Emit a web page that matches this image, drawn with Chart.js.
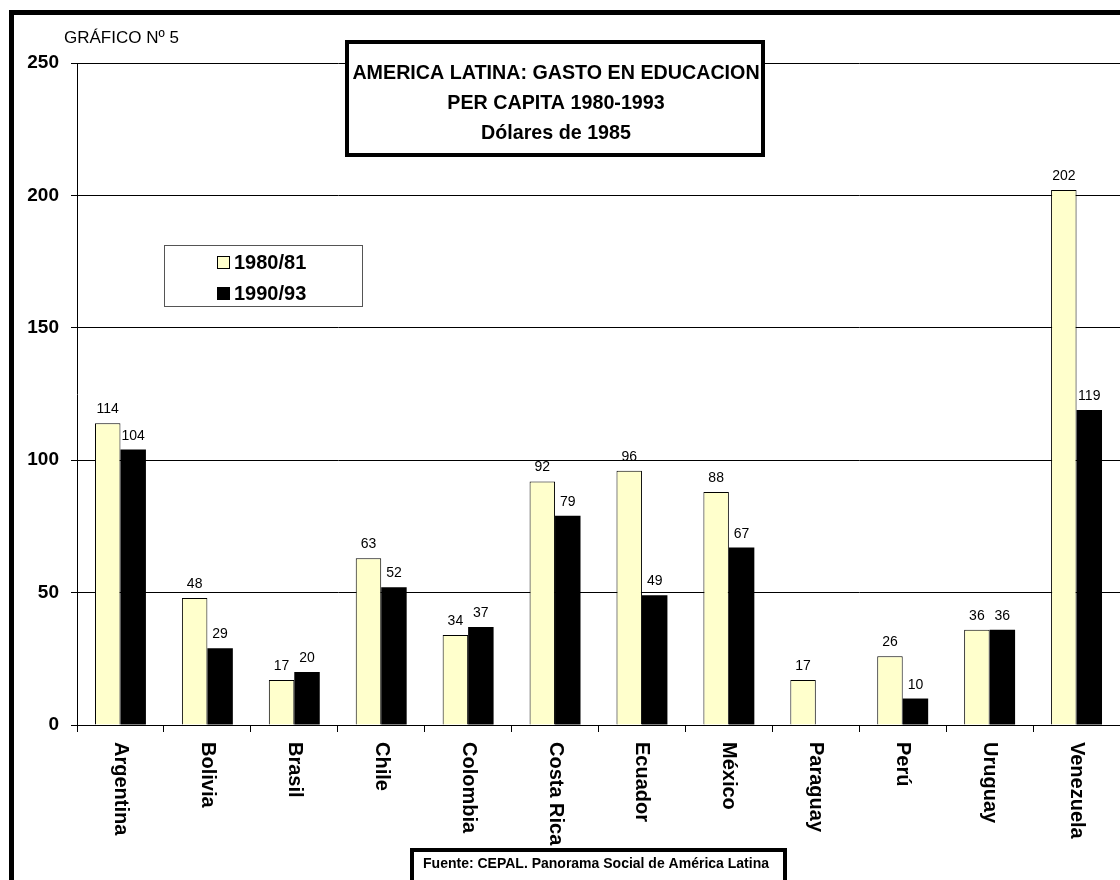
<!DOCTYPE html>
<html>
<head>
<meta charset="utf-8">
<title>Gasto en educación per cápita</title>
<script src="https://cdn.jsdelivr.net/npm/chart.js@4.4.0/dist/chart.umd.min.js"></script>
<style>
  html, body { margin: 0; padding: 0; background: #fff; overflow: hidden; }
  #wrap { width: 1120px; height: 880px; position: relative; }
</style>
</head>
<body>
<div id="wrap"><canvas id="gastoChart" width="1120" height="880"></canvas></div>
<script>
// Gasto en educación per cápita, dólares de 1985
const paises = ['Argentina', 'Bolivia', 'Brasil', 'Chile', 'Colombia', 'Costa Rica',
                'Ecuador', 'México', 'Paraguay', 'Perú', 'Uruguay', 'Venezuela'];
const gasto1980 = [114, 48, 17, 63, 34, 92, 96, 88, 17, 26, 36, 202];
const gasto1990 = [104, 29, 20, 52, 37, 79, 49, 67, null, 10, 36, 119];
const periodos = ['1980/81', '1990/93'];
const yMax = 250;
const yPaso = 50;

const tituloLineas = ['AMERICA LATINA: GASTO EN EDUCACION', 'PER CAPITA 1980-1993', 'Dólares de 1985'];
const rotulo = 'GRÁFICO Nº 5';
const fuente = 'Fuente: CEPAL. Panorama Social de América Latina';

const FONT = '"Liberation Sans", Arial, Helvetica, sans-serif';
const AMARILLO = '#FFFFCC';

// everything Excel-like that is not a bar: frame, title box, legend, labels
const decorado = {
    id: 'decorado',
    afterDraw(chart) {
        const ctx = chart.ctx;
        const xScale = chart.scales.x;
        ctx.save();

        // outer frame
        ctx.strokeStyle = '#000';
        ctx.lineWidth = 5;
        ctx.strokeRect(11.5, 12.5, 1200, 1000);

        ctx.fillStyle = '#000';
        ctx.font = '17px ' + FONT;
        ctx.textAlign = 'left';
        ctx.textBaseline = 'alphabetic';
        ctx.fillText(rotulo, 64, 43);

        // value labels above each bar
        ctx.font = '14px ' + FONT;
        ctx.textAlign = 'center';
        chart.data.datasets.forEach((ds, i) => {
            const meta = chart.getDatasetMeta(i);
            meta.data.forEach((bar, j) => {
                const v = ds.data[j];
                if (v === null || v === undefined) return;
                ctx.fillText(String(v), bar.x, bar.y - 10);
            });
        });

        // category names, rotated to read downward
        ctx.font = 'bold 20px ' + FONT;
        ctx.textAlign = 'left';
        ctx.textBaseline = 'middle';
        chart.data.labels.forEach((lab, i) => {
            const x = xScale.getPixelForValue(i);
            ctx.save();
            ctx.translate(x, 742);
            ctx.rotate(Math.PI / 2);
            ctx.fillText(lab, 0, 0);
            ctx.restore();
        });

        // title box
        ctx.fillStyle = '#fff';
        ctx.fillRect(347, 42, 416, 113);
        ctx.lineWidth = 4;
        ctx.strokeStyle = '#000';
        ctx.strokeRect(347, 42, 416, 113);
        ctx.fillStyle = '#000';
        ctx.font = 'bold 19.7px ' + FONT;
        ctx.textAlign = 'center';
        ctx.textBaseline = 'middle';
        tituloLineas.forEach((t, i) => ctx.fillText(t, 556, 74 + i * 30));

        // legend
        ctx.fillStyle = '#fff';
        ctx.fillRect(164, 245, 198, 61);
        ctx.lineWidth = 1;
        ctx.strokeStyle = '#555';
        ctx.strokeRect(164.5, 245.5, 198, 61);
        ctx.font = 'bold 20px ' + FONT;
        ctx.textAlign = 'left';
        chart.data.datasets.forEach((ds, i) => {
            const y = 263 + i * 31;
            ctx.fillStyle = ds.backgroundColor;
            ctx.fillRect(217, y - 7, 13, 13);
            ctx.strokeStyle = '#000';
            ctx.strokeRect(217.5, y - 6.5, 12, 12);
            ctx.fillStyle = '#000';
            ctx.fillText(ds.label, 234, y);
        });

        // source box
        ctx.fillStyle = '#fff';
        ctx.fillRect(412, 848, 373, 50);
        ctx.lineWidth = 4;
        ctx.strokeStyle = '#000';
        ctx.strokeRect(412, 850, 373, 50);
        ctx.fillStyle = '#000';
        ctx.font = 'bold 14px ' + FONT;
        ctx.textAlign = 'center';
        ctx.fillText(fuente, 596, 864);

        ctx.restore();
    }
};

new Chart(document.getElementById('gastoChart'), {
    type: 'bar',
    data: {
        labels: paises,
        datasets: [
            {
                label: periodos[0],
                data: gasto1980,
                backgroundColor: AMARILLO,
                borderColor: '#000',
                borderWidth: 1,
                categoryPercentage: 0.586,
                barPercentage: 1
            },
            {
                label: periodos[1],
                data: gasto1990,
                backgroundColor: '#000',
                borderColor: '#000',
                borderWidth: 0,
                categoryPercentage: 0.586,
                barPercentage: 1
            }
        ]
    },
    options: {
        responsive: false,
        animation: false,
        devicePixelRatio: 1,
        layout: { padding: { top: 63, left: 0, right: 0, bottom: 0 } },
        plugins: {
            legend: { display: false },
            tooltip: { enabled: false }
        },
        scales: {
            x: {
                grid: { display: true, drawOnChartArea: false, drawTicks: true, tickLength: 7, color: '#000', offset: true },
                border: { display: true, color: '#000', width: 1 },
                ticks: { display: false },
                afterFit: s => { s.height = 155; }
            },
            y: {
                min: 0,
                max: yMax,
                ticks: {
                    stepSize: yPaso,
                    color: '#000',
                    padding: 12,
                    font: { family: FONT, size: 19, weight: 'bold' }
                },
                grid: { color: '#000', lineWidth: 1, tickLength: 6 },
                border: { display: true, color: '#000', width: 1 },
                afterFit: s => { s.width = 77; }
            }
        }
    },
    plugins: [decorado]
});
</script>
</body>
</html>
